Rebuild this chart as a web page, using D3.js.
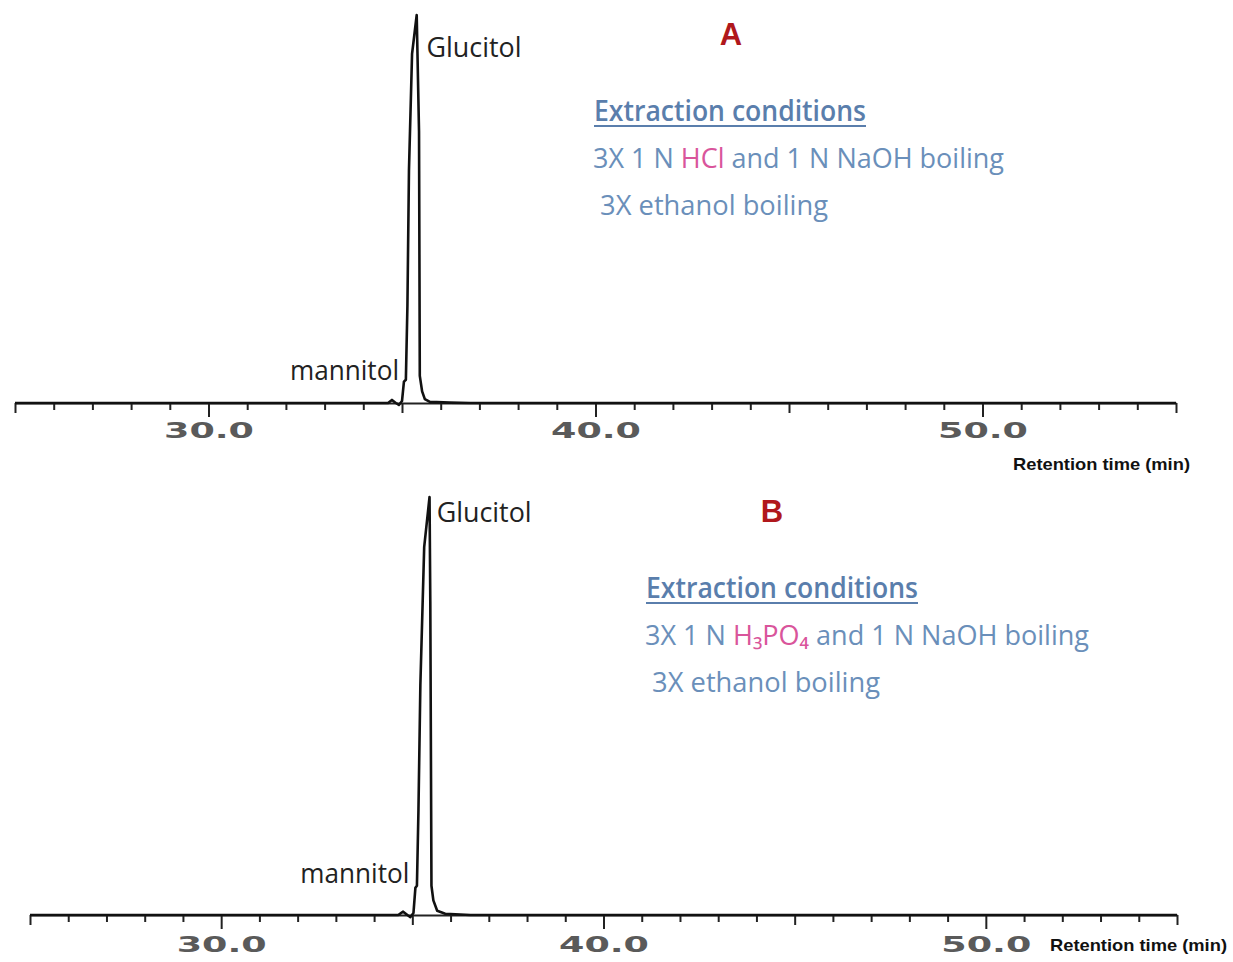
<!DOCTYPE html>
<html>
<head>
<meta charset="utf-8">
<script src="https://cdn.jsdelivr.net/npm/d3@7"></script>
<style>
  body { margin: 0; background: #fff; }
  svg { display: block; }
</style>
</head>
<body>
<div id="chromatogram"></div>
<script>
// retention time (min) and detector response (% of Glucitol peak)
const timeA   = [25.0, 34.64, 34.74, 34.84, 34.92, 35.00, 35.05, 35.10, 35.14, 35.18, 35.26, 35.38, 35.44, 35.46, 35.52, 35.59, 35.72, 36.24, 36.76, 55.0];
const signalA = [0,    0,     0.8,   0,     -0.5,  0.5,   5.5,   6,     25,    60,    90,    100,   70,    7,     3,     1,     0.3,   0.1,   0,     0];

const timeB   = [25.0, 34.63, 34.76, 34.87, 34.95, 35.03, 35.08, 35.12, 35.16, 35.21, 35.31, 35.45, 35.47, 35.50, 35.55, 35.65, 35.86, 36.52, 55.0];
const signalB = [0,    0,     0.8,   0,     -0.5,  0.5,   6.5,   7,     25,    55,    88,    100,   75,    7,     3.5,   1,     0.3,   0,     0];

const axisDomain  = [25, 55];
const majorTicks  = [30, 40, 50];
const tickLabels  = ['30.0', '40.0', '50.0'];
const axisTitle   = 'Retention time (min)';
const peakNames   = ['Glucitol', 'mannitol'];
const peakTimes   = [35.4, 35.0];
const panelNames  = ['A', 'B'];
const condTitle   = 'Extraction conditions';
const condA = [[{t: '3X 1 N '}, {t: 'HCl', acid: true}, {t: ' and 1 N NaOH boiling'}], [{t: ' 3X ethanol boiling'}]];
const condB = [[{t: '3X 1 N '}, {t: 'H₃PO₄', acid: true}, {t: ' and 1 N NaOH boiling'}], [{t: ' 3X ethanol boiling'}]];

const chromatogram = (() => {
    let svg;
    const W = 1233, H = 962;
    const FONT = '"Open Sans", "Noto Sans", sans-serif';

    // layout of the two stacked panels (pixel positions only)
    const layout = [
        {time: timeA, signal: signalA, cond: condA, x0: 15, x1: 1176, base: 403, top: 15,
         tickY: 35, title: [1013, 470], name: [731, 45], block: [594, 121], glucY: 57, mannY: 380},
        {time: timeB, signal: signalB, cond: condB, x0: 30, x1: 1177, base: 915, top: 497,
         tickY: 37, title: [1050, 951], name: [772, 522], block: [646, 598], glucY: 522, mannY: 883}
    ];

    const appendSVG = () => {
        svg = d3.select('#chromatogram').append('svg')
            .attr('width', W)
            .attr('height', H);
    };

    /**
     * Draw one panel
     * @param {Object} p
     * @param {Number} i
     */
    const drawPanel = (p, i) => {
        const g = svg.append('g').attr('class', 'panel-' + panelNames[i]);
        const x = d3.scaleLinear().domain(axisDomain).range([p.x0, p.x1]);
        const y = d3.scaleLinear().domain([0, 100]).range([p.base, p.top]);

        // axis
        const axis = d3.axisBottom(x)
            .tickValues(d3.range(axisDomain[0], axisDomain[1] + 1))
            .tickSizeOuter(0)
            .tickFormat(d => {
                const k = majorTicks.indexOf(d);
                return k >= 0 ? tickLabels[k] : '';
            });

        const ax = g.append('g')
            .attr('transform', `translate(0,${p.base})`)
            .call(axis);

        ax.select('.domain').attr('stroke', '#222').attr('stroke-width', 2.2);
        ax.selectAll('.tick line')
            .attr('stroke', '#222')
            .attr('stroke-width', 2)
            .attr('y2', d => majorTicks.includes(d) ? 14 : (d % 5 === 0 ? 10 : 7));
        ax.selectAll('.tick text')
            .attr('y', p.tickY)
            .attr('dy', 0)
            .attr('fill', '#5a5a5a')
            .attr('font-family', '"DejaVu Sans", sans-serif')
            .attr('font-weight', 'bold')
            .attr('font-size', 22)
            .attr('textLength', d => majorTicks.includes(d) ? 90 : null)
            .attr('lengthAdjust', 'spacingAndGlyphs');

        g.append('text')
            .attr('x', p.title[0])
            .attr('y', p.title[1])
            .attr('font-family', '"Liberation Sans Narrow", "Liberation Sans", sans-serif')
            .attr('font-weight', 'bold')
            .attr('font-size', 17)
            .attr('fill', '#111')
            .attr('textLength', 177)
            .attr('lengthAdjust', 'spacingAndGlyphs')
            .text(axisTitle);

        // trace
        const line = d3.line()
            .x((d, k) => x(p.time[k]))
            .y(d => y(d));

        g.append('path')
            .datum(p.signal)
            .attr('d', line)
            .attr('fill', 'none')
            .attr('stroke', '#111')
            .attr('stroke-width', 2.6)
            .attr('stroke-linejoin', 'round');

        // peak labels
        g.append('text')
            .attr('x', x(peakTimes[0]) + 9)
            .attr('y', p.glucY)
            .attr('font-family', FONT)
            .attr('font-size', 27)
            .attr('fill', '#222')
            .attr('textLength', 95)
            .attr('lengthAdjust', 'spacingAndGlyphs')
            .text(peakNames[0]);

        g.append('text')
            .attr('x', x(peakTimes[1]) - 112)
            .attr('y', p.mannY)
            .attr('font-family', FONT)
            .attr('font-size', 27)
            .attr('fill', '#222')
            .attr('textLength', 109)
            .attr('lengthAdjust', 'spacingAndGlyphs')
            .text(peakNames[1]);

        // panel letter
        g.append('text')
            .attr('x', p.name[0])
            .attr('y', p.name[1])
            .attr('text-anchor', 'middle')
            .attr('font-family', '"Liberation Sans", sans-serif')
            .attr('font-weight', 'bold')
            .attr('font-size', 31)
            .attr('fill', '#b0181c')
            .text(panelNames[i]);

        // extraction conditions block
        const bx = p.block[0], by = p.block[1];
        g.append('text')
            .attr('x', bx)
            .attr('y', by)
            .attr('font-family', FONT)
            .attr('font-weight', 600)
            .attr('font-size', 28)
            .attr('fill', '#5a7eac')
            .attr('textLength', 272)
            .attr('lengthAdjust', 'spacingAndGlyphs')
            .text(condTitle);

        g.append('line')
            .attr('x1', bx).attr('x2', bx + 272)
            .attr('y1', by + 5).attr('y2', by + 5)
            .attr('stroke', '#5a7eac')
            .attr('stroke-width', 2);

        const widths = [i === 0 ? 411 : 444, 235];
        p.cond.forEach((segs, r) => {
            const t = g.append('text')
                .attr('x', bx - 1)
                .attr('y', by + 47 * (r + 1))
                .attr('font-family', FONT)
                .attr('font-size', 28)
                .attr('fill', '#6a8fba')
                .style('white-space', 'pre')
                .attr('textLength', widths[r])
                .attr('lengthAdjust', 'spacingAndGlyphs');
            segs.forEach(s => {
                t.append('tspan')
                    .attr('fill', s.acid ? '#d9559b' : null)
                    .text(s.t);
            });
        });
    };

    const draw = () => {
        appendSVG();
        layout.forEach(drawPanel);
    };

    return { draw: draw };
})();

chromatogram.draw();
</script>
</body>
</html>
